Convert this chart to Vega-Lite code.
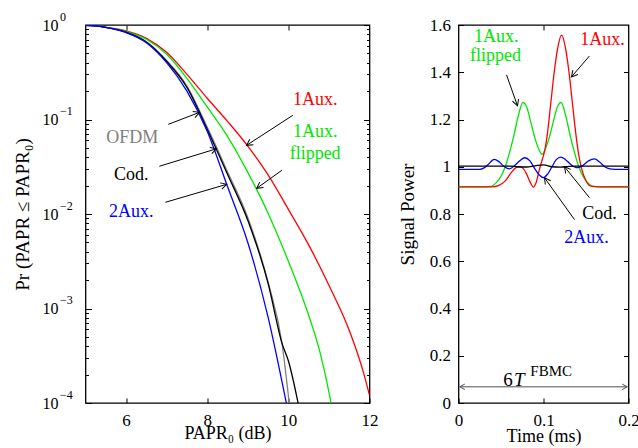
{
  "$schema": "https://vega.github.io/schema/vega-lite/v6.json",
  "background": "white",
  "padding": {"left": 11.5, "top": 9, "right": 5, "bottom": 5},
  "spacing": 89,
  "bounds": "flush",
  "config": {
    "font": "Liberation Serif",
    "view": {"stroke": "black", "strokeWidth": 1.3},
    "axis": {"domain": false, "grid": false, "tickColor": "black", "labelColor": "black", "titleColor": "black", "labelFont": "Liberation Serif", "titleFont": "Liberation Serif", "labelFontSize": 17, "titleFontSize": 18, "titleFontWeight": "normal", "tickWidth": 1, "offset": 0, "labelFlush": false, "zindex": 1}
  },
  "datasets": {
    "ccdf": [
      {"s":"1Aux.","x":5,"p":0.99},{"s":"1Aux.","x":5.25,"p":0.978},{"s":"1Aux.","x":5.5,"p":0.946},{"s":"1Aux.","x":6,"p":0.868},{"s":"1Aux.","x":6.5,"p":0.723},{"s":"1Aux.","x":7,"p":0.514},{"s":"1Aux.","x":7.5,"p":0.3},{"s":"1Aux.","x":8,"p":0.168},{"s":"1Aux.","x":8.5,"p":0.0957},{"s":"1Aux.","x":9,"p":0.0524},{"s":"1Aux.","x":9.5,"p":0.0259},{"s":"1Aux.","x":10,"p":0.0112},{"s":"1Aux.","x":10.5,"p":0.00471},{"s":"1Aux.","x":11,"p":0.00176},{"s":"1Aux.","x":11.5,"p":0.000588},{"s":"1Aux.","x":11.85,"p":0.000211},{"s":"1Aux.","x":12,"p":0.000121},
      {"s":"1Aux. flipped","x":5,"p":0.99},{"s":"1Aux. flipped","x":5.25,"p":0.978},{"s":"1Aux. flipped","x":5.5,"p":0.946},{"s":"1Aux. flipped","x":6,"p":0.858},{"s":"1Aux. flipped","x":6.5,"p":0.706},{"s":"1Aux. flipped","x":7,"p":0.49},{"s":"1Aux. flipped","x":7.5,"p":0.273},{"s":"1Aux. flipped","x":8,"p":0.136},{"s":"1Aux. flipped","x":8.5,"p":0.0664},{"s":"1Aux. flipped","x":9,"p":0.0276},{"s":"1Aux. flipped","x":9.5,"p":0.0102},{"s":"1Aux. flipped","x":10,"p":0.00316},{"s":"1Aux. flipped","x":10.5,"p":0.000847},{"s":"1Aux. flipped","x":10.78,"p":0.000344},{"s":"1Aux. flipped","x":11,"p":0.00013},{"s":"1Aux. flipped","x":11.05,"p":0.0001},
      {"s":"OFDM","x":5,"p":0.99},{"s":"OFDM","x":5.25,"p":0.978},{"s":"OFDM","x":5.5,"p":0.946},{"s":"OFDM","x":6,"p":0.84},{"s":"OFDM","x":6.5,"p":0.664},{"s":"OFDM","x":7,"p":0.42},{"s":"OFDM","x":7.5,"p":0.226},{"s":"OFDM","x":8,"p":0.083},{"s":"OFDM","x":8.5,"p":0.028},{"s":"OFDM","x":9,"p":0.0092},{"s":"OFDM","x":9.5,"p":0.0019},{"s":"OFDM","x":9.85,"p":0.00041},{"s":"OFDM","x":10.02,"p":0.0001},
      {"s":"Cod.","x":5,"p":0.99},{"s":"Cod.","x":5.25,"p":0.978},{"s":"Cod.","x":5.5,"p":0.946},{"s":"Cod.","x":6,"p":0.84},{"s":"Cod.","x":6.5,"p":0.66},{"s":"Cod.","x":7,"p":0.413},{"s":"Cod.","x":7.5,"p":0.219},{"s":"Cod.","x":8,"p":0.0788},{"s":"Cod.","x":8.5,"p":0.0263},{"s":"Cod.","x":9,"p":0.00858},{"s":"Cod.","x":9.5,"p":0.00185},{"s":"Cod.","x":9.85,"p":0.00042},{"s":"Cod.","x":10,"p":0.00028},{"s":"Cod.","x":10.24,"p":0.0001},
      {"s":"2Aux.","x":5,"p":0.99},{"s":"2Aux.","x":5.25,"p":0.978},{"s":"2Aux.","x":5.5,"p":0.944},{"s":"2Aux.","x":6,"p":0.832},{"s":"2Aux.","x":6.5,"p":0.65},{"s":"2Aux.","x":7,"p":0.4},{"s":"2Aux.","x":7.5,"p":0.2},{"s":"2Aux.","x":8,"p":0.075},{"s":"2Aux.","x":8.5,"p":0.0195},{"s":"2Aux.","x":9,"p":0.005},{"s":"2Aux.","x":9.5,"p":0.00081},{"s":"2Aux.","x":9.95,"p":0.0001}
    ],
    "sig": [
      {"s":"1Aux. flipped","t":0,"v":0.915},{"s":"1Aux. flipped","t":0.03,"v":0.915},{"s":"1Aux. flipped","t":0.038,"v":0.917},{"s":"1Aux. flipped","t":0.045,"v":0.935},{"s":"1Aux. flipped","t":0.05,"v":0.96},{"s":"1Aux. flipped","t":0.055,"v":1.0},{"s":"1Aux. flipped","t":0.06,"v":1.06},{"s":"1Aux. flipped","t":0.065,"v":1.13},{"s":"1Aux. flipped","t":0.07,"v":1.21},{"s":"1Aux. flipped","t":0.0757,"v":1.272},{"s":"1Aux. flipped","t":0.08,"v":1.255},{"s":"1Aux. flipped","t":0.085,"v":1.19},{"s":"1Aux. flipped","t":0.09,"v":1.12},{"s":"1Aux. flipped","t":0.095,"v":1.07},{"s":"1Aux. flipped","t":0.0983,"v":1.052},{"s":"1Aux. flipped","t":0.1015,"v":1.07},{"s":"1Aux. flipped","t":0.1065,"v":1.12},{"s":"1Aux. flipped","t":0.1115,"v":1.19},{"s":"1Aux. flipped","t":0.1165,"v":1.255},{"s":"1Aux. flipped","t":0.1208,"v":1.272},{"s":"1Aux. flipped","t":0.1265,"v":1.21},{"s":"1Aux. flipped","t":0.1315,"v":1.13},{"s":"1Aux. flipped","t":0.1365,"v":1.06},{"s":"1Aux. flipped","t":0.1415,"v":1.0},{"s":"1Aux. flipped","t":0.1465,"v":0.96},{"s":"1Aux. flipped","t":0.1515,"v":0.935},{"s":"1Aux. flipped","t":0.1585,"v":0.917},{"s":"1Aux. flipped","t":0.166,"v":0.915},{"s":"1Aux. flipped","t":0.2,"v":0.915},
      {"s":"1Aux.","t":0,"v":0.915},{"s":"1Aux.","t":0.04,"v":0.915},{"s":"1Aux.","t":0.047,"v":0.92},{"s":"1Aux.","t":0.055,"v":0.94},{"s":"1Aux.","t":0.062,"v":0.975},{"s":"1Aux.","t":0.068,"v":0.997},{"s":"1Aux.","t":0.072,"v":1.0},{"s":"1Aux.","t":0.076,"v":0.993},{"s":"1Aux.","t":0.08,"v":0.97},{"s":"1Aux.","t":0.084,"v":0.937},{"s":"1Aux.","t":0.088,"v":0.914},{"s":"1Aux.","t":0.091,"v":0.93},{"s":"1Aux.","t":0.0953,"v":0.99},{"s":"1Aux.","t":0.0985,"v":1.03},{"s":"1Aux.","t":0.1016,"v":1.07},{"s":"1Aux.","t":0.1046,"v":1.14},{"s":"1Aux.","t":0.1086,"v":1.27},{"s":"1Aux.","t":0.1126,"v":1.4},{"s":"1Aux.","t":0.1166,"v":1.5},{"s":"1Aux.","t":0.1213,"v":1.557},{"s":"1Aux.","t":0.126,"v":1.5},{"s":"1Aux.","t":0.13,"v":1.4},{"s":"1Aux.","t":0.134,"v":1.27},{"s":"1Aux.","t":0.138,"v":1.14},{"s":"1Aux.","t":0.141,"v":1.06},{"s":"1Aux.","t":0.145,"v":0.99},{"s":"1Aux.","t":0.15,"v":0.94},{"s":"1Aux.","t":0.156,"v":0.918},{"s":"1Aux.","t":0.165,"v":0.915},{"s":"1Aux.","t":0.2,"v":0.915},
      {"s":"2Aux.","t":0,"v":0.989},{"s":"2Aux.","t":0.025,"v":0.989},{"s":"2Aux.","t":0.03,"v":0.995},{"s":"2Aux.","t":0.035,"v":1.01},{"s":"2Aux.","t":0.042,"v":1.031},{"s":"2Aux.","t":0.048,"v":1.02},{"s":"2Aux.","t":0.054,"v":1.0},{"s":"2Aux.","t":0.06,"v":0.991},{"s":"2Aux.","t":0.066,"v":1.005},{"s":"2Aux.","t":0.072,"v":1.025},{"s":"2Aux.","t":0.078,"v":1.038},{"s":"2Aux.","t":0.084,"v":1.025},{"s":"2Aux.","t":0.09,"v":0.99},{"s":"2Aux.","t":0.095,"v":0.965},{"s":"2Aux.","t":0.1,"v":0.954},{"s":"2Aux.","t":0.105,"v":0.97},{"s":"2Aux.","t":0.11,"v":1.0},{"s":"2Aux.","t":0.115,"v":1.03},{"s":"2Aux.","t":0.1205,"v":1.041},{"s":"2Aux.","t":0.126,"v":1.03},{"s":"2Aux.","t":0.132,"v":1.01},{"s":"2Aux.","t":0.1396,"v":0.996},{"s":"2Aux.","t":0.146,"v":1.005},{"s":"2Aux.","t":0.153,"v":1.025},{"s":"2Aux.","t":0.16,"v":1.033},{"s":"2Aux.","t":0.166,"v":1.02},{"s":"2Aux.","t":0.172,"v":1.0},{"s":"2Aux.","t":0.18,"v":0.99},{"s":"2Aux.","t":0.19,"v":0.989},{"s":"2Aux.","t":0.2,"v":0.989},
      {"s":"Cod.","t":0,"v":1.003},{"s":"Cod.","t":0.06,"v":1.003},{"s":"Cod.","t":0.07,"v":1.0},{"s":"Cod.","t":0.08,"v":0.999},{"s":"Cod.","t":0.09,"v":1.004},{"s":"Cod.","t":0.1,"v":1.008},{"s":"Cod.","t":0.11,"v":1.0},{"s":"Cod.","t":0.12,"v":0.998},{"s":"Cod.","t":0.13,"v":1.002},{"s":"Cod.","t":0.14,"v":1.003},{"s":"Cod.","t":0.2,"v":1.003}
    ],
    "ltext": [
      {"s":"1Aux.","label":"1Aux.","x":10.66,"y":0.16},
      {"s":"1Aux. flipped","label":"1Aux.","x":10.66,"y":0.073},
      {"s":"1Aux. flipped","label":"flipped","x":10.66,"y":0.0428},
      {"s":"OFDM","label":"OFDM","x":6.15,"y":0.0632},
      {"s":"Cod.","label":"Cod.","x":6.13,"y":0.0257},
      {"s":"2Aux.","label":"2Aux.","x":6.13,"y":0.0104}
    ],
    "larrow": [
      {"x":7.04,"y":0.0889,"x2":7.81,"y2":0.119,"angle":-21.2},
      {"x":6.82,"y":0.032,"x2":8.23,"y2":0.049,"angle":-17.1},
      {"x":6.97,"y":0.0133,"x2":8.48,"y2":0.0206,"angle":-16.4},
      {"x":10.11,"y":0.1108,"x2":8.97,"y2":0.0533,"angle":146.9},
      {"x":9.84,"y":0.029,"x2":9.22,"y2":0.0187,"angle":144.2}
    ],
    "rtext": [
      {"s":"1Aux.","label":"1Aux.","t":0.1694,"v":1.535},
      {"s":"1Aux. flipped","label":"1Aux.","t":0.0444,"v":1.55},
      {"s":"1Aux. flipped","label":"flipped","t":0.0435,"v":1.469},
      {"s":"Cod.","label":"Cod.","t":0.1659,"v":0.798},
      {"s":"2Aux.","label":"2Aux.","t":0.1506,"v":0.70}
    ],
    "rarrow": [
      {"t":0.1541,"v":1.469,"t2":0.1329,"v2":1.3805,"angle":130.6},
      {"t":0.0565,"v":1.389,"t2":0.0694,"v2":1.258,"angle":70.5},
      {"t":0.1541,"v":0.869,"t2":0.1247,"v2":1.0,"angle":-128.9},
      {"t":0.1365,"v":0.776,"t2":0.1012,"v2":0.9535,"angle":-125.5}
    ],
    "span": [{"t":0.0015,"v":0.0685,"t2":0.1985,"v2":0.0685}],
    "spanhead": [{"t":0.0015,"v":0.0685,"angle":180},{"t":0.1985,"v":0.0685,"angle":0}],
    "fbmc": [
      {"part":"6","label":"6","t":0.0638,"v":0.074},
      {"part":"T","label":"T","t":0.0652,"v":0.074},
      {"part":"sup","label":"FBMC","t":0.0845,"v":0.113}
    ]
  },
  "hconcat": [
    {
      "width": 284,
      "height": 378,
      "resolve": {"axis": {"x": "independent", "y": "independent"}},
      "layer": [
        {
          "data": {"name": "ccdf"},
          "mark": {"type": "line", "strokeWidth": 1.3, "interpolate": "monotone", "clip": true},
          "encoding": {
            "x": {"field": "x", "type": "quantitative", "scale": {"domain": [5, 12], "nice": false, "zero": false},
                  "axis": {"orient": "bottom", "values": [6, 8, 10, 12], "tickSize": -5, "labelPadding": 14, "title": "PAPR₀ (dB)", "titlePadding": -4}},
            "y": {"field": "p", "type": "quantitative", "scale": {"type": "log", "domain": [0.0001, 1], "nice": false},
                  "axis": {"orient": "left", "values": [0.0001, 0.001, 0.01, 0.1, 1], "labelExpr": "'10'", "labelAlign": "left", "labelFontSize": 16, "labelPadding": 49.5, "tickSize": -6, "title": "Pr (PAPR ≤ PAPR₀)", "titlePadding": 10, "titleFontSize": 19}},
            "color": {"field": "s", "type": "nominal", "legend": null,
                      "scale": {"domain": ["1Aux.", "1Aux. flipped", "OFDM", "Cod.", "2Aux."], "range": ["#ff0000", "#00e600", "#808080", "#000000", "#0000ff"]}}
          }
        },
        {
          "data": {"name": "ccdf"},
          "mark": {"type": "point", "opacity": 0},
          "encoding": {
            "x": {"field": "x", "type": "quantitative", "axis": null},
            "y": {"field": "p", "type": "quantitative",
                  "axis": {"orient": "left", "values": [0.0001, 0.001, 0.01, 0.1, 1], "labelExpr": "datum.value >= 1 ? '0' : '−' + abs(round(log(datum.value) / LN10))", "labelAlign": "left", "labelPadding": 26, "labelOffset": -9, "labelFontSize": 12, "ticks": false, "title": null}}
          }
        },
        {
          "data": {"name": "ccdf"},
          "mark": {"type": "point", "opacity": 0},
          "encoding": {
            "x": {"field": "x", "type": "quantitative", "axis": {"orient": "top", "values": [6, 8, 10], "tickSize": -5, "labels": false, "title": null}},
            "y": {"field": "p", "type": "quantitative",
                  "axis": {"orient": "left", "values": [0.0002,0.0003,0.0004,0.0005,0.0006,0.0007,0.0008,0.0009,0.002,0.003,0.004,0.005,0.006,0.007,0.008,0.009,0.02,0.03,0.04,0.05,0.06,0.07,0.08,0.09,0.2,0.3,0.4,0.5,0.6,0.7,0.8,0.9], "tickSize": -3, "labels": false, "title": null}}
          }
        },
        {
          "data": {"name": "ccdf"},
          "mark": {"type": "point", "opacity": 0},
          "encoding": {
            "x": {"field": "x", "type": "quantitative", "axis": null},
            "y": {"field": "p", "type": "quantitative",
                  "axis": {"orient": "right", "values": [0.0001, 0.001, 0.01, 0.1, 1], "tickSize": -6, "labels": false, "title": null}}
          }
        },
        {
          "data": {"name": "ccdf"},
          "mark": {"type": "point", "opacity": 0},
          "encoding": {
            "x": {"field": "x", "type": "quantitative", "axis": null},
            "y": {"field": "p", "type": "quantitative",
                  "axis": {"orient": "right", "values": [0.0002,0.0003,0.0004,0.0005,0.0006,0.0007,0.0008,0.0009,0.002,0.003,0.004,0.005,0.006,0.007,0.008,0.009,0.02,0.03,0.04,0.05,0.06,0.07,0.08,0.09,0.2,0.3,0.4,0.5,0.6,0.7,0.8,0.9], "tickSize": -3, "labels": false, "title": null}}
          }
        },
        {
          "data": {"name": "larrow"},
          "mark": {"type": "rule", "color": "black", "strokeWidth": 1},
          "encoding": {
            "x": {"field": "x", "type": "quantitative", "axis": null},
            "y": {"field": "y", "type": "quantitative", "axis": null},
            "x2": {"field": "x2"},
            "y2": {"field": "y2"}
          }
        },
        {
          "data": {"name": "larrow"},
          "mark": {"type": "point", "shape": "M -1 -0.55 L 0 0 L -1 0.55", "filled": false, "color": "black", "strokeWidth": 1, "size": 144, "opacity": 1},
          "encoding": {
            "x": {"field": "x2", "type": "quantitative", "axis": null},
            "y": {"field": "y2", "type": "quantitative", "axis": null},
            "angle": {"field": "angle", "type": "quantitative", "scale": null}
          }
        },
        {
          "data": {"name": "ltext"},
          "mark": {"type": "text", "fontSize": 18, "align": "center", "baseline": "middle"},
          "encoding": {
            "x": {"field": "x", "type": "quantitative", "axis": null},
            "y": {"field": "y", "type": "quantitative", "axis": null},
            "text": {"field": "label"},
            "color": {"field": "s", "type": "nominal", "legend": null}
          }
        }
      ]
    },
    {
      "width": 170,
      "height": 378,
      "resolve": {"axis": {"x": "independent", "y": "independent"}},
      "layer": [
        {
          "data": {"name": "sig"},
          "mark": {"type": "line", "strokeWidth": 1.3, "interpolate": "monotone"},
          "encoding": {
            "x": {"field": "t", "type": "quantitative", "scale": {"domain": [0, 0.2], "nice": false},
                  "axis": {"orient": "bottom", "values": [0, 0.1, 0.2], "format": "~g", "tickSize": -5, "labelPadding": 14, "title": "Time (ms)", "titlePadding": -1}},
            "y": {"field": "v", "type": "quantitative", "scale": {"domain": [0, 1.6], "nice": false},
                  "axis": {"orient": "left", "values": [0, 0.2, 0.4, 0.6, 0.8, 1, 1.2, 1.4, 1.6], "format": "~g", "tickSize": -5, "labelPadding": 13, "title": "Signal Power", "titlePadding": 12, "titleFontSize": 19}},
            "color": {"field": "s", "type": "nominal", "legend": null,
                      "scale": {"domain": ["1Aux.", "1Aux. flipped", "Cod.", "2Aux."], "range": ["#ff0000", "#00e600", "#000000", "#0000ff"]}}
          }
        },
        {
          "data": {"name": "sig"},
          "mark": {"type": "point", "opacity": 0},
          "encoding": {
            "x": {"field": "t", "type": "quantitative", "axis": {"orient": "top", "values": [0.1], "tickSize": -5, "labels": false, "title": null}},
            "y": {"field": "v", "type": "quantitative", "axis": {"orient": "right", "values": [0.2, 0.4, 0.6, 0.8, 1, 1.2, 1.4], "tickSize": -5, "labels": false, "title": null}}
          }
        },
        {
          "data": {"name": "rarrow"},
          "mark": {"type": "rule", "color": "black", "strokeWidth": 1},
          "encoding": {
            "x": {"field": "t", "type": "quantitative", "axis": null},
            "y": {"field": "v", "type": "quantitative", "axis": null},
            "x2": {"field": "t2"},
            "y2": {"field": "v2"}
          }
        },
        {
          "data": {"name": "rarrow"},
          "mark": {"type": "point", "shape": "M -1 -0.55 L 0 0 L -1 0.55", "filled": false, "color": "black", "strokeWidth": 1, "size": 144, "opacity": 1},
          "encoding": {
            "x": {"field": "t2", "type": "quantitative", "axis": null},
            "y": {"field": "v2", "type": "quantitative", "axis": null},
            "angle": {"field": "angle", "type": "quantitative", "scale": null}
          }
        },
        {
          "data": {"name": "span"},
          "mark": {"type": "rule", "color": "#505050", "strokeWidth": 1},
          "encoding": {
            "x": {"field": "t", "type": "quantitative", "axis": null},
            "y": {"field": "v", "type": "quantitative", "axis": null},
            "x2": {"field": "t2"},
            "y2": {"field": "v2"}
          }
        },
        {
          "data": {"name": "spanhead"},
          "mark": {"type": "point", "shape": "M -1 -0.55 L 0 0 L -1 0.55", "filled": false, "color": "#505050", "strokeWidth": 1, "size": 100, "opacity": 1},
          "encoding": {
            "x": {"field": "t", "type": "quantitative", "axis": null},
            "y": {"field": "v", "type": "quantitative", "axis": null},
            "angle": {"field": "angle", "type": "quantitative", "scale": null}
          }
        },
        {
          "data": {"name": "rtext"},
          "mark": {"type": "text", "fontSize": 18, "align": "center", "baseline": "middle"},
          "encoding": {
            "x": {"field": "t", "type": "quantitative", "axis": null},
            "y": {"field": "v", "type": "quantitative", "axis": null},
            "text": {"field": "label"},
            "color": {"field": "s", "type": "nominal", "legend": null}
          }
        },
        {
          "data": {"name": "fbmc"},
          "transform": [{"filter": "datum.part == '6'"}],
          "mark": {"type": "text", "fontSize": 19, "align": "right", "baseline": "alphabetic", "color": "black"},
          "encoding": {
            "x": {"field": "t", "type": "quantitative", "axis": null},
            "y": {"field": "v", "type": "quantitative", "axis": null},
            "text": {"field": "label"}
          }
        },
        {
          "data": {"name": "fbmc"},
          "transform": [{"filter": "datum.part == 'T'"}],
          "mark": {"type": "text", "fontSize": 19, "fontStyle": "italic", "align": "left", "baseline": "alphabetic", "color": "black"},
          "encoding": {
            "x": {"field": "t", "type": "quantitative", "axis": null},
            "y": {"field": "v", "type": "quantitative", "axis": null},
            "text": {"field": "label"}
          }
        },
        {
          "data": {"name": "fbmc"},
          "transform": [{"filter": "datum.part == 'sup'"}],
          "mark": {"type": "text", "fontSize": 15, "align": "left", "baseline": "alphabetic", "color": "black"},
          "encoding": {
            "x": {"field": "t", "type": "quantitative", "axis": null},
            "y": {"field": "v", "type": "quantitative", "axis": null},
            "text": {"field": "label"}
          }
        }
      ]
    }
  ]
}
